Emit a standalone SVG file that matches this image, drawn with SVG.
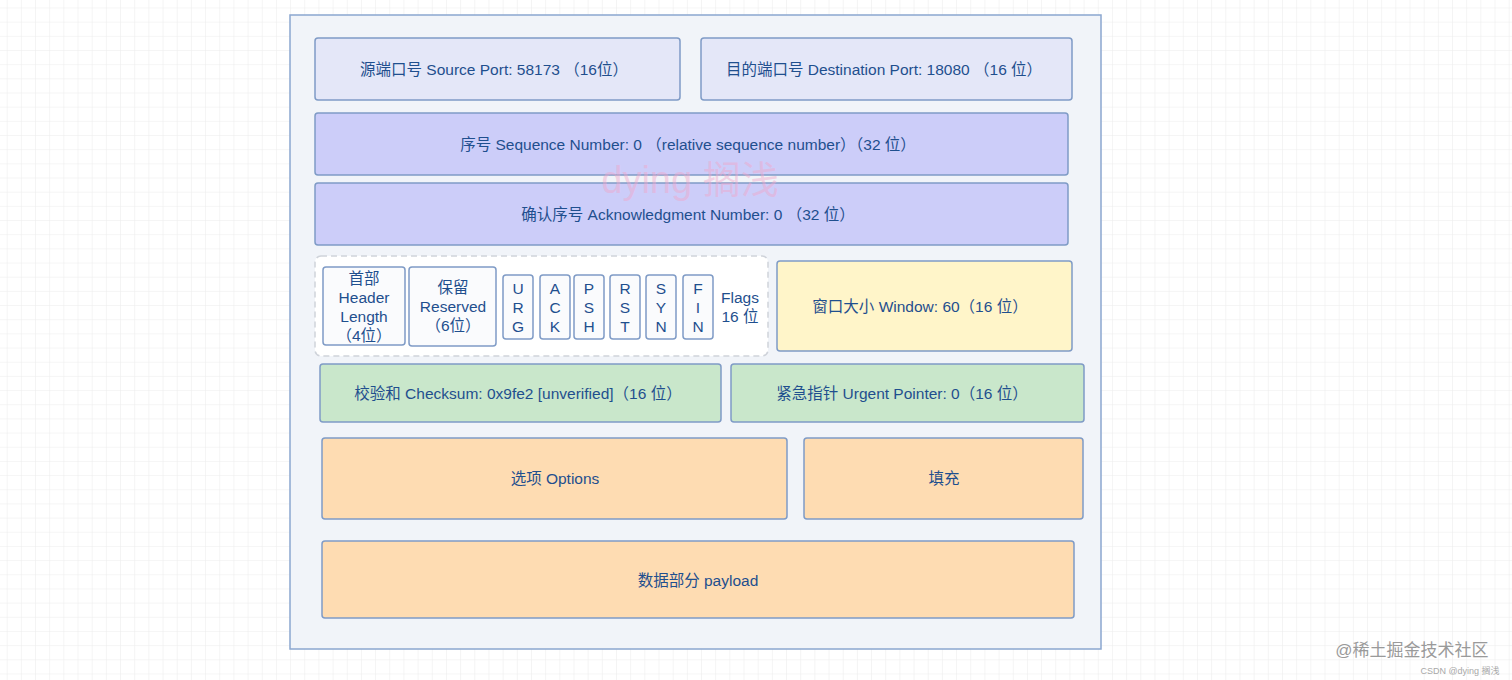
<svg xmlns="http://www.w3.org/2000/svg" width="1512" height="680" viewBox="0 0 1512 680">
<defs>
<pattern id="grid" x="6.7" y="7.5" width="14.17" height="14.17" patternUnits="userSpaceOnUse">
<path d="M0 0H14.17M0 0V14.17" fill="none" stroke="#ebebeb" stroke-width="1"/>
</pattern>
<style>
.t{font-family:"Liberation Sans","Noto Sans CJK SC",sans-serif;font-size:15.5px;fill:#1f4f8e;text-anchor:middle;dominant-baseline:central}
.box{stroke:#7f9bc6;stroke-width:1.5}
.p1{fill:#e4e7f8}.p2{fill:#cccdf9}.y{fill:#fff5c9}.g{fill:#c9e7cb}.o{fill:#fedcb2}.w{fill:#fafbfd}
</style>
</defs>
<rect width="1512" height="680" fill="#ffffff"/>
<rect width="1512" height="680" fill="url(#grid)"/>
<g id="container"><rect x="290" y="15" width="811" height="634" fill="#f1f4f9" stroke="#8ba7cf" stroke-width="1.5"/></g>
<g id="src"><rect class="box p1" x="315" y="38" width="365" height="62" rx="3"/><text class="t" x="494" y="69">源端口号 Source Port: 58173 （16位）</text></g>
<g id="dst"><rect class="box p1" x="701" y="38" width="371" height="62" rx="3"/><text class="t" x="884" y="69">目的端口号 Destination Port: 18080 （16 位）</text></g>
<g id="seq"><rect class="box p2" x="315" y="113" width="753" height="62" rx="3"/><text class="t" x="688" y="144">序号 Sequence Number: 0 （relative sequence number）（32 位）</text></g>
<g id="ack"><rect class="box p2" x="315" y="183" width="753" height="62" rx="3"/><text class="t" x="688" y="214">确认序号 Acknowledgment Number: 0 （32 位）</text></g>
<g id="flags-group"><rect x="315" y="256" width="453" height="100" rx="6" fill="#ffffff" stroke="#cfd3da" stroke-width="1.5" stroke-dasharray="6 4"/>
<text class="t" x="740" y="297">Flags</text><text class="t" x="740" y="316">16 位</text></g>
<g id="hlen"><rect class="box w" x="323" y="267" width="82" height="78" rx="3"/><text class="t" x="364" y="278">首部</text><text class="t" x="364" y="297">Header</text><text class="t" x="364" y="316">Length</text><text class="t" x="364" y="335">（4位）</text></g>
<g id="rsv"><rect class="box w" x="409" y="267" width="87" height="79" rx="3"/><text class="t" x="453" y="287">保留</text><text class="t" x="453" y="306">Reserved</text><text class="t" x="453" y="325">（6位）</text></g>
<g id="urg"><rect class="box w" x="503" y="275" width="30" height="64" rx="3"/><text class="t" x="518" y="288">U</text><text class="t" x="518" y="307">R</text><text class="t" x="518" y="326">G</text></g>
<g id="ackf"><rect class="box w" x="540" y="275" width="30" height="64" rx="3"/><text class="t" x="555" y="288">A</text><text class="t" x="555" y="307">C</text><text class="t" x="555" y="326">K</text></g>
<g id="psh"><rect class="box w" x="574" y="275" width="30" height="64" rx="3"/><text class="t" x="589" y="288">P</text><text class="t" x="589" y="307">S</text><text class="t" x="589" y="326">H</text></g>
<g id="rst"><rect class="box w" x="610" y="275" width="30" height="64" rx="3"/><text class="t" x="625" y="288">R</text><text class="t" x="625" y="307">S</text><text class="t" x="625" y="326">T</text></g>
<g id="syn"><rect class="box w" x="646" y="275" width="30" height="64" rx="3"/><text class="t" x="661" y="288">S</text><text class="t" x="661" y="307">Y</text><text class="t" x="661" y="326">N</text></g>
<g id="fin"><rect class="box w" x="683" y="275" width="30" height="64" rx="3"/><text class="t" x="698" y="288">F</text><text class="t" x="698" y="307">I</text><text class="t" x="698" y="326">N</text></g>
<g id="win"><rect class="box y" x="777" y="261" width="295" height="90" rx="3"/><text class="t" x="920" y="306">窗口大小 Window: 60（16 位）</text></g>
<g id="chk"><rect class="box g" x="320" y="364" width="401" height="58" rx="3"/><text class="t" x="518" y="393">校验和 Checksum: 0x9fe2 [unverified]（16 位）</text></g>
<g id="urp"><rect class="box g" x="731" y="364" width="353" height="58" rx="3"/><text class="t" x="902" y="393">紧急指针 Urgent Pointer: 0（16 位）</text></g>
<g id="opt"><rect class="box o" x="322" y="438" width="465" height="81" rx="3"/><text class="t" x="555" y="478">选项 Options</text></g>
<g id="pad"><rect class="box o" x="804" y="438" width="279" height="81" rx="3"/><text class="t" x="944" y="478">填充</text></g>
<g id="payload"><rect class="box o" x="322" y="541" width="752" height="77" rx="3"/><text class="t" x="698" y="580">数据部分 payload</text></g>
<g id="connectors"/>
<text x="690" y="180" font-family="Liberation Sans,'Noto Sans CJK SC',sans-serif" font-size="38" fill="#f2a6c8" fill-opacity="0.45" text-anchor="middle" dominant-baseline="central">dying 搁浅</text>
<text x="1412" y="650" font-family="Liberation Sans,'Noto Sans CJK SC',sans-serif" font-size="17" fill="#9a9a9a" text-anchor="middle" dominant-baseline="central">@稀土掘金技术社区</text>
<text x="1460" y="671" font-family="Liberation Sans,'Noto Sans CJK SC',sans-serif" font-size="9" fill="#a8a8a8" text-anchor="middle" dominant-baseline="central">CSDN @dying 搁浅</text>
</svg>
